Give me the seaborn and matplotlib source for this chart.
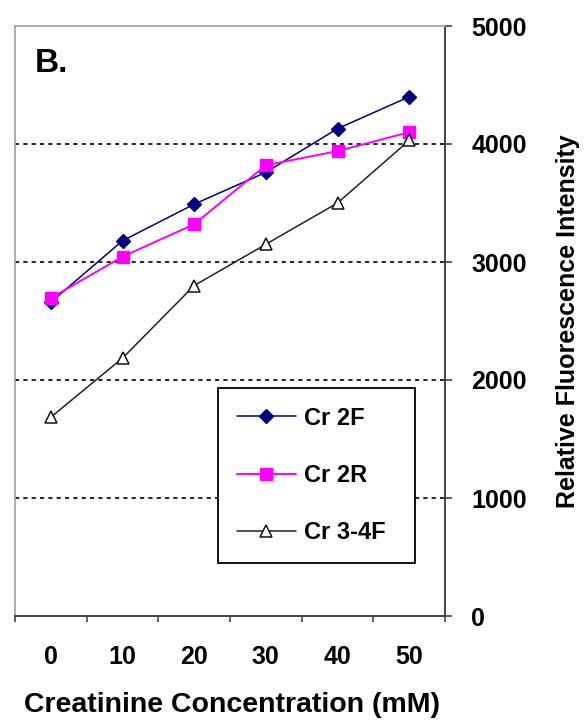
import numpy as np
import matplotlib
matplotlib.use("Agg")
import matplotlib.pyplot as plt
import seaborn as sns

# creatinine concentration (mM) and fluorescence readings
conc = [0, 10, 20, 30, 40, 50]
cr_2f = [2660, 3180, 3490, 3760, 4130, 4400]
cr_2r = [2695, 3045, 3320, 3820, 3940, 4100]
cr_34f = [1685, 2185, 2800, 3150, 3500, 4030]
yticks = [0, 1000, 2000, 3000, 4000, 5000]

sns.set_style("white")
plt.rcParams['font.family'] = ['Liberation Sans', 'DejaVu Sans']
plt.rcParams['font.weight'] = 'bold'
plt.rcParams['text.color'] = 'black'
plt.rcParams['axes.labelcolor'] = 'black'
plt.rcParams['xtick.color'] = 'black'
plt.rcParams['ytick.color'] = 'black'

fig = plt.figure(figsize=(5.87, 7.22), dpi=100)
ax = fig.add_axes([15 / 587, 106 / 722, 430 / 587, 590 / 722])

# dashed gridlines between the axis limits
for v in yticks[1:-1]:
    ax.axhline(v, color='black', lw=1.2, ls=(0, (2.5, 2.5)), zorder=1)

sns.lineplot(x=conc, y=cr_2f, ax=ax, color='#000080', lw=1.1, marker='D',
             markersize=7, markeredgecolor='#000080', markeredgewidth=1,
             label='Cr 2F', zorder=3)
sns.lineplot(x=conc, y=cr_2r, ax=ax, color='#ff00ff', lw=1.4, marker='s',
             markersize=8, markeredgecolor='#ff00ff', markeredgewidth=1,
             label='Cr 2R', zorder=4)
sns.lineplot(x=conc, y=cr_34f, ax=ax, color='#222222', lw=1.1, marker='^',
             markersize=9, markerfacecolor='white', markeredgecolor='#111111',
             markeredgewidth=1.1, label='Cr 3-4F', zorder=5)

ax.set_xlim(-5, 55)
ax.set_ylim(0, 5000)
ax.set_xticks(conc)
ax.set_xticks([c - 5 for c in conc] + [55], minor=True)
ax.set_xticklabels([str(c) for c in conc], fontsize=18, fontweight='bold')
ax.tick_params(axis='x', which='major', length=0, pad=21, labelcolor='black')
ax.tick_params(axis='x', which='minor', length=4, width=1.2, color='#444444',
               direction='out', bottom=True)

ax.yaxis.tick_right()
ax.yaxis.set_label_position('right')
ax.set_yticks(yticks)
ax.set_yticklabels([str(v) for v in yticks], fontsize=18, fontweight='bold')
ax.tick_params(axis='y', length=5, width=1.2, color='#444444', direction='out',
               pad=14, right=True, left=False, labelcolor='black')

for side in ['left', 'top']:
    ax.spines[side].set_color('#a0a0a0')
    ax.spines[side].set_linewidth(1.2)
for side in ['right', 'bottom']:
    ax.spines[side].set_color('#444444')
    ax.spines[side].set_linewidth(1.4)

ax.set_xlabel('Creatinine Concentration (mM)', fontsize=20.5, fontweight='bold',
              va='center', color='black')
ax.xaxis.set_label_coords((232 - 15) / 430, (616 - 705) / 590)
ax.set_ylabel('Relative Fluorescence Intensity', fontsize=18, fontweight='bold',
              rotation=90, va='center', ha='center', color='black')
ax.yaxis.set_label_coords((568 - 15) / 430, 0.5)

ax.text(0.0465, 0.922, 'B.', transform=ax.transAxes, fontsize=24,
        fontweight='bold', va='baseline', ha='left', color='black')

leg = ax.legend(loc='lower left', bbox_to_anchor=(0.472, 0.0898, 0.458, 0.293),
                mode='expand', borderaxespad=0, frameon=True,
                fancybox=False, framealpha=1, edgecolor='black',
                handlelength=2.5, handletextpad=0.35, borderpad=0.8,
                labelspacing=1.45, prop={'weight': 'bold', 'size': 17})
leg.get_frame().set_linewidth(1.3)
for t in leg.get_texts():
    t.set_color('black')
leg.set_zorder(10)

fig.savefig('out.png', dpi=100)
